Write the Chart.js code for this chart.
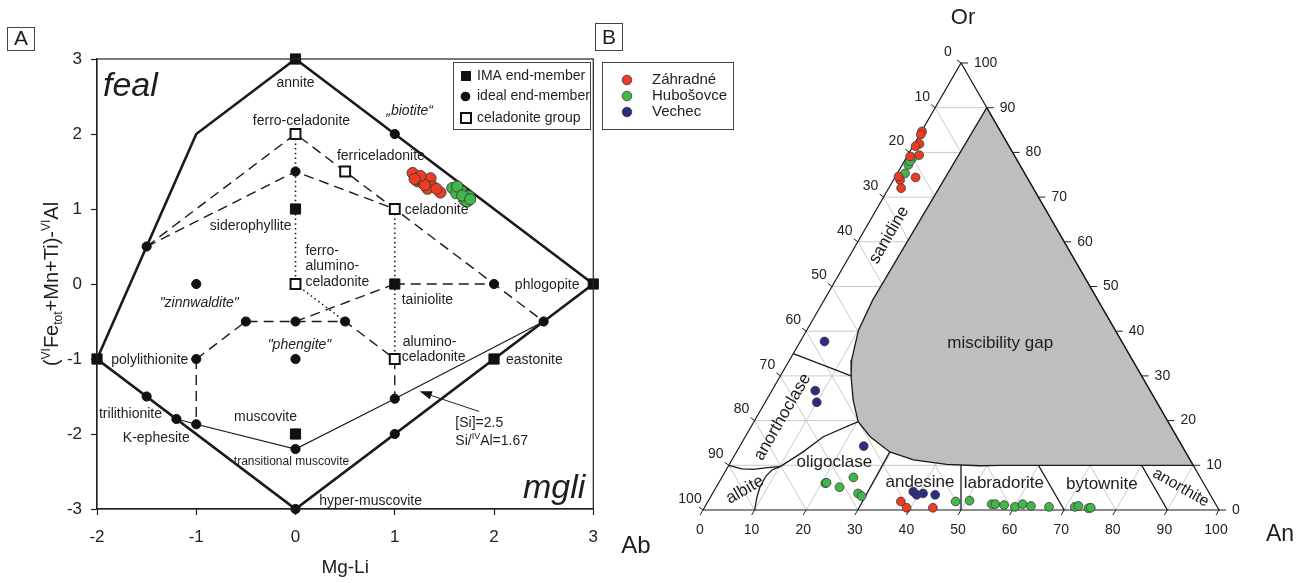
<!DOCTYPE html>
<html>
<head>
<meta charset="utf-8">
<title>Mica and feldspar classification</title>
<script src="https://cdn.jsdelivr.net/npm/chart.js@4.4.1/dist/chart.umd.min.js"></script>
<style>
    html, body { margin: 0; padding: 0; background: #fff; }
    body { width: 1306px; height: 583px; position: relative; overflow: hidden; }
    #micaChart { position: absolute; left: 0; top: 0; }
    #feldsparChart { position: absolute; left: 590px; top: 0; }
</style>
</head>
<body>
<canvas id="micaChart" width="610" height="583"></canvas>
<canvas id="feldsparChart" width="716" height="583"></canvas>
<script>
const FONT = '"Liberation Sans", Arial, Helvetica, sans-serif';

// ---------- panel A : mgli vs feal ----------
const micaTicksX = [-2, -1, 0, 1, 2, 3];
const micaTicksY = [-3, -2, -1, 0, 1, 2, 3];

const zahradneMgli = [1.18, 1.23, 1.28, 1.36, 1.38, 1.46, 1.33, 1.23, 1.30, 1.42, 1.26, 1.20];
const zahradneFeal = [1.48, 1.37, 1.35, 1.41, 1.30, 1.22, 1.27, 1.41, 1.32, 1.27, 1.44, 1.40];
const hubosovceMgli = [1.58, 1.67, 1.75, 1.70, 1.62, 1.73, 1.63, 1.68, 1.76];
const hubosovceFeal = [1.28, 1.24, 1.17, 1.12, 1.21, 1.10, 1.30, 1.18, 1.13];

const imaEndMembers = [[0, 3], [0, 1], [3, 0], [1, 0], [-2, -1], [2, -1], [0, -2]];
const idealEndMembers = [[1, 2], [0, 1.5], [-1.5, 0.5], [-1, 0], [2, 0], [-0.5, -0.5], [0, -0.5],
    [0.5, -0.5], [2.5, -0.5], [-1, -1], [0, -1], [-1.5, -1.5], [-1.2, -1.8], [-1, -1.87],
    [0, -2.2], [1, -1.53], [1, -2], [0, -3]];
const celadoniteGroup = [[0, 2], [0.5, 1.5], [1, 1], [0, 0], [1, -1]];

const outerBoundary = [[0, 3], [3, 0], [0, -3], [-2, -1], [-1.5, 0.5], [-1, 2], [0, 3]];
const si25Line = [[-1.2, -1.8], [-1, -1.87], [0, -2.2], [1, -1.53], [2.5, -0.5]];
const dashedLines = [
    [[-1.5, 0.5], [0, 2], [1, 1], [2.5, -0.5]],
    [[-1.5, 0.5], [0, 1.5], [1, 1]],
    [[1, 0], [2, 0]],
    [[0, -0.5], [1, 0]],
    [[-1, -1], [-0.5, -0.5], [0.5, -0.5], [1, -1], [1, -1.53]],
    [[-1, -1], [-1, -1.87]]
];
const dottedLines = [
    [[0, 2], [0, 0], [0.5, -0.5]],
    [[1, 1], [1, -1]]
];

// ---------- panel B : Ab - An - Or ternary ----------
const feldsparTicks = [0, 10, 20, 30, 40, 50, 60, 70, 80, 90, 100];

const zahradneAn = [0.1, 0.2, 1.0, 0.5, 2.2, 0.6, 4.0, 1.3, 2.4, 0.6, 37.4, 39.2, 44.3];
const zahradneOr = [84.7, 84.0, 81.9, 81.4, 79.4, 79.1, 74.4, 73.8, 72.0, 74.6, 1.9, 0.5, 0.5];
const hubosovceAn = [1.2, 1.2, 1.5, 1.1, 20.7, 20.9, 23.9, 25.5, 28.2, 29.2, 48.0, 50.6,
    55.3, 56.0, 57.8, 60.1, 61.3, 63.1, 66.7, 71.7, 72.3, 74.5, 74.9];
const hubosovceOr = [78.7, 77.2, 75.3, 78.0, 6.0, 6.1, 5.1, 7.3, 3.7, 3.1, 1.9, 2.1,
    1.3, 1.3, 1.1, 0.7, 1.3, 0.9, 0.7, 0.7, 0.9, 0.4, 0.5];
const vechecAn = [4.7, 8.4, 10.0, 24.0, 38.7, 39.7, 40.8, 43.3];
const vechecOr = [37.7, 26.7, 24.1, 14.3, 4.1, 3.4, 3.7, 3.4];

const gapAn = [10, 9.4, 10.0, 12.0, 13.8, 16.8, 20.2, 24.2, 29.7, 35.2, 42.1, 48.7, 52.6, 90, 10];
const gapOr = [90, 47.0, 40.3, 33.6, 29.8, 24.6, 19.75, 16.4, 13.0, 11.2, 10.2, 9.9, 10, 10, 90];

const fieldBoundaries = [
    { an: [0, 13.7], or: [35, 30.0] },                                  // sanidine / anorthoclase
    { an: [0, 2.9, 5.2, 7.7, 10.1], or: [10, 9.2, 9.1, 9.5, 9.7] },     // albite / anorthoclase
    { an: [10.1, 12.9, 15.1, 20.2], or: [9.7, 13.0, 16.4, 19.75] },     // anorthoclase / oligoclase
    { an: [10, 9.0, 8.45, 8.4, 8.9, 10.1], or: [0, 2.9, 5.2, 7.6, 8.95, 9.7] }, // albite / oligoclase
    { an: [30, 29.7], or: [0, 13.0] },                                  // oligoclase / andesine
    { an: [50, 45], or: [0, 10] },                                      // andesine / labradorite
    { an: [70, 60], or: [0, 10] },                                      // labradorite / bytownite
    { an: [90, 80], or: [0, 10] }                                       // bytownite / anorthite
];

Chart.defaults.font.family = FONT;
Chart.defaults.color = '#222';

const pairs = list => list.map(([x, y]) => ({ x, y }));
const zipXY = (xs, ys) => xs.map((x, i) => ({ x, y: ys[i] }));
const tern = (an, or) => ({ x: (an + or / 2) / 100, y: or / 100 });
const zipTern = (ans, ors) => ans.map((a, i) => tern(a, ors[i]));

function drawText(ctx, text, x, y, o) {
    ctx.save();
    ctx.font = o.font;
    ctx.fillStyle = o.color || '#1e1e1e';
    ctx.textAlign = o.align || 'left';
    ctx.textBaseline = o.baseline || 'middle';
    ctx.translate(x, y);
    if (o.rotate) ctx.rotate(o.rotate);
    ctx.fillText(text, 0, 0);
    ctx.restore();
}

// text pieces with superscript / subscript
function drawRich(ctx, parts, x, y, size, align) {
    const fontFor = k => (k ? Math.round(size * 0.62) : size) + 'px ' + FONT;
    let total = 0;
    parts.forEach(([t, k]) => { ctx.font = fontFor(k); total += ctx.measureText(t).width; });
    let cx = align === 'center' ? x - total / 2 : x;
    ctx.textAlign = 'left';
    ctx.textBaseline = 'alphabetic';
    parts.forEach(([t, k]) => {
        ctx.font = fontFor(k);
        const dy = k === 'sup' ? -size * 0.42 : (k === 'sub' ? size * 0.2 : 0);
        ctx.fillText(t, cx, y + dy);
        cx += ctx.measureText(t).width;
    });
}

function seg(ctx, x1, y1, x2, y2) {
    ctx.beginPath(); ctx.moveTo(x1, y1); ctx.lineTo(x2, y2); ctx.stroke();
}

// ---------- panel A chart ----------
const micaLabels = [
    { t: 'annite', x: 0.0, y: 2.68, align: 'center' },
    { t: '\u201Ebiotite\u201C', x: 1.15, y: 2.30, align: 'center', italic: true },
    { t: 'ferro-celadonite', x: 0.06, y: 2.17, align: 'center' },
    { t: 'ferriceladonite', x: 0.86, y: 1.70, align: 'center' },
    { t: 'celadonite', x: 1.10, y: 0.99 },
    { t: 'siderophyllite', x: -0.04, y: 0.77, align: 'right' },
    { t: 'ferro-', x: 0.10, y: 0.44 },
    { t: 'alumino-', x: 0.10, y: 0.24 },
    { t: 'celadonite', x: 0.10, y: 0.03 },
    { t: '"zinnwaldite"', x: -0.97, y: -0.25, align: 'center', italic: true },
    { t: 'tainiolite', x: 1.07, y: -0.21 },
    { t: 'phlogopite', x: 2.21, y: -0.01 },
    { t: '"phengite"', x: 0.04, y: -0.81, align: 'center', italic: true },
    { t: 'alumino-', x: 1.08, y: -0.77 },
    { t: 'celadonite', x: 1.07, y: -0.97 },
    { t: 'polylithionite', x: -1.08, y: -1.01, align: 'right' },
    { t: 'eastonite', x: 2.12, y: -1.02 },
    { t: '[Si]=2.5', x: 1.61, y: -1.85 },
    { t: 'trilithionite', x: -1.98, y: -1.74 },
    { t: 'muscovite', x: -0.62, y: -1.78 },
    { t: 'K-ephesite', x: -1.74, y: -2.05 },
    { t: 'transitional muscovite', x: -0.04, y: -2.37, align: 'center', size: 12 },
    { t: 'hyper-muscovite', x: 0.24, y: -2.90 }
];

const micaDecor = {
    id: 'micaDecor',
    afterDatasetsDraw(chart) {
        const { ctx, chartArea: a, scales: { x, y } } = chart;
        ctx.save();
        ctx.strokeStyle = '#222';
        ctx.lineWidth = 1.2;
        ctx.strokeRect(a.left, a.top, a.right - a.left, a.bottom - a.top);

        micaLabels.forEach(l => {
            const font = (l.italic ? 'italic ' : '') + (l.size || 14) + 'px ' + FONT;
            drawText(ctx, l.t, x.getPixelForValue(l.x), y.getPixelForValue(l.y), { font, align: l.align });
        });
        ctx.fillStyle = '#1e1e1e';
        drawRich(ctx, [['Si/', ''], ['IV', 'sup'], ['Al=1.67', '']],
            x.getPixelForValue(1.61), y.getPixelForValue(-2.08) + 5, 14, 'left');

        drawText(ctx, 'feal', x.getPixelForValue(-1.94), y.getPixelForValue(2.51),
            { font: 'italic 34px ' + FONT, baseline: 'alphabetic' });
        drawText(ctx, 'mgli', x.getPixelForValue(2.92), y.getPixelForValue(-2.85),
            { font: 'italic 34px ' + FONT, baseline: 'alphabetic', align: 'right' });

        // arrow pointing at the [Si]=2.5 line
        const tx = x.getPixelForValue(1.25), ty = y.getPixelForValue(-1.43);
        const sx = x.getPixelForValue(1.85), sy = y.getPixelForValue(-1.70);
        ctx.strokeStyle = '#222';
        ctx.lineWidth = 1;
        seg(ctx, sx, sy, tx + 8, ty + 3);
        const ang = Math.atan2(ty - sy, tx - sx);
        ctx.fillStyle = '#111';
        ctx.beginPath();
        ctx.moveTo(tx, ty);
        ctx.lineTo(tx - 13 * Math.cos(ang - 0.33), ty - 13 * Math.sin(ang - 0.33));
        ctx.lineTo(tx - 13 * Math.cos(ang + 0.33), ty - 13 * Math.sin(ang + 0.33));
        ctx.closePath();
        ctx.fill();

        // y axis title
        ctx.save();
        ctx.translate(a.left - 46, (a.top + a.bottom) / 2);
        ctx.rotate(-Math.PI / 2);
        ctx.fillStyle = '#1e1e1e';
        drawRich(ctx, [['(', ''], ['VI', 'sup'], ['Fe', ''], ['tot', 'sub'], ['+Mn+Ti)-', ''], ['VI', 'sup'], ['Al', '']],
            0, 7, 20, 'center');
        ctx.restore();

        // legend
        ctx.strokeStyle = '#444';
        ctx.lineWidth = 1;
        ctx.strokeRect(453.5, 62.5, 137, 67);
        ctx.fillStyle = '#111';
        ctx.fillRect(461, 71, 10, 10);
        ctx.beginPath(); ctx.arc(465.5, 96.5, 4.8, 0, Math.PI * 2); ctx.fill();
        ctx.fillStyle = '#fff';
        ctx.lineWidth = 2;
        ctx.strokeStyle = '#111';
        ctx.fillRect(461, 113, 10, 10);
        ctx.strokeRect(461, 113, 10, 10);
        ['IMA end-member', 'ideal end-member', 'celadonite group'].forEach((t, i) => {
            drawText(ctx, t, 477, [76, 96.5, 118][i], { font: '14px ' + FONT });
        });

        // panel letter
        ctx.lineWidth = 1;
        ctx.strokeStyle = '#444';
        ctx.strokeRect(7.5, 27.5, 27, 23);
        drawText(ctx, 'A', 21, 39.5, { font: '21px ' + FONT, align: 'center' });
        ctx.restore();
    }
};

const micaLine = (pts, width, dash) => ({
    data: pairs(pts), showLine: true, borderColor: '#1a1a1a', borderWidth: width,
    borderDash: dash || [], pointRadius: 0, fill: false, clip: false, order: 5
});

new Chart(document.getElementById('micaChart'), {
    type: 'scatter',
    data: {
        datasets: [
            { label: 'Záhradné', data: zipXY(zahradneMgli, zahradneFeal), pointRadius: 5.6,
              backgroundColor: '#ec3d24', borderColor: '#3a3a3a', borderWidth: 0.9, clip: false, order: 0 },
            { label: 'Hubošovce', data: zipXY(hubosovceMgli, hubosovceFeal), pointRadius: 5.6,
              backgroundColor: '#43b64b', borderColor: '#3a3a3a', borderWidth: 0.9, clip: false, order: 0 },
            { label: 'IMA end-member', data: pairs(imaEndMembers), pointStyle: 'rect', pointRadius: 7.2,
              backgroundColor: '#111', borderColor: '#111', borderWidth: 1, clip: false, order: 1 },
            { label: 'ideal end-member', data: pairs(idealEndMembers), pointRadius: 4.6,
              backgroundColor: '#111', borderColor: '#111', borderWidth: 1, clip: false, order: 1 },
            { label: 'celadonite group', data: pairs(celadoniteGroup), pointStyle: 'rect', pointRadius: 7,
              backgroundColor: '#fff', borderColor: '#111', borderWidth: 2, clip: false, order: 1 },
            micaLine(outerBoundary, 2.6),
            micaLine(si25Line, 1.2),
            ...dashedLines.map(l => micaLine(l, 1.4, [10, 6])),
            ...dottedLines.map(l => micaLine(l, 1.6, [1.5, 3.2]))
        ]
    },
    options: {
        responsive: false,
        maintainAspectRatio: false,
        devicePixelRatio: 1,
        animation: false,
        events: [],
        layout: { padding: { left: 0, right: 13, top: 59, bottom: 0 } },
        plugins: { legend: { display: false }, tooltip: { enabled: false } },
        scales: {
            x: {
                type: 'linear', min: -2, max: 3,
                afterBuildTicks: s => { s.ticks = micaTicksX.map(v => ({ value: v })); },
                afterFit: s => { s.height = 74; },
                ticks: { font: { size: 17 }, color: '#222', padding: 12 },
                grid: { drawOnChartArea: false, drawTicks: true, tickLength: 6, tickColor: '#222', tickWidth: 1.2 },
                border: { display: true, color: '#222', width: 1.2 },
                title: { display: true, text: 'Mg-Li', font: { size: 19 }, color: '#222', padding: { top: 4, bottom: 4 } }
            },
            y: {
                type: 'linear', min: -3, max: 3,
                afterBuildTicks: s => { s.ticks = micaTicksY.map(v => ({ value: v })); },
                afterFit: s => { s.width = 97; },
                ticks: { font: { size: 17 }, color: '#222', padding: 9 },
                grid: { drawOnChartArea: false, drawTicks: true, tickLength: 6, tickColor: '#222', tickWidth: 1.2 },
                border: { display: true, color: '#222', width: 1.2 }
            }
        }
    },
    plugins: [micaDecor]
});

// ---------- panel B chart ----------
const feldsparLabels = [
    { t: 'sanidine', an: 5.3, or: 61.5, rotate: -Math.PI / 3 },
    { t: 'anorthoclase', an: 5.0, or: 20.8, rotate: -Math.PI / 3 },
    { t: 'albite', an: 5.9, or: 4.5, rotate: -Math.PI / 6 },
    { t: 'oligoclase', an: 20.1, or: 10.7 },
    { t: 'andesine', an: 38.9, or: 6.3 },
    { t: 'labradorite', an: 55.3, or: 6.0 },
    { t: 'bytownite', an: 74.4, or: 5.8 },
    { t: 'anorthite', an: 90.1, or: 5.0, rotate: Math.PI / 6, size: 16 },
    { t: 'miscibility gap', an: 38.9, or: 37.4 }
];

const feldsparDecor = {
    id: 'feldsparDecor',
    afterDatasetsDraw(chart) {
        const { ctx, scales: { x, y } } = chart;
        const P = (an, or) => ({ x: x.getPixelForValue((an + or / 2) / 100), y: y.getPixelForValue(or / 100) });
        ctx.save();
        ctx.strokeStyle = '#222';
        ctx.lineWidth = 1;
        ctx.fillStyle = '#222';
        ctx.font = '14px ' + FONT;
        ctx.textBaseline = 'middle';
        feldsparTicks.forEach(v => {
            let p = P(v, 0);
            seg(ctx, p.x, p.y, p.x - 3, p.y + 5);
            ctx.textAlign = 'center';
            ctx.fillText(String(v), p.x - 3, p.y + 20);
            p = P(100 - v, v);
            seg(ctx, p.x, p.y, p.x + 7, p.y);
            ctx.textAlign = 'left';
            ctx.fillText(String(v), p.x + 13, p.y);
            p = P(0, 100 - v);
            seg(ctx, p.x, p.y, p.x - 4, p.y - 3);
            ctx.textAlign = 'center';
            ctx.fillText(String(v), p.x - 13, p.y - 11);
        });

        feldsparLabels.forEach(l => {
            const p = P(l.an, l.or);
            drawText(ctx, l.t, p.x, p.y, { font: (l.size || 17) + 'px ' + FONT, align: 'center', rotate: l.rotate });
        });

        let p = P(0, 100);
        drawText(ctx, 'Or', p.x + 2, p.y - 45, { font: '22px ' + FONT, align: 'center' });
        p = P(0, 0);
        drawText(ctx, 'Ab', p.x - 67, p.y + 36, { font: '24px ' + FONT, align: 'center' });
        p = P(100, 0);
        drawText(ctx, 'An', p.x + 61, p.y + 25, { font: '23px ' + FONT, align: 'center' });

        // legend
        ctx.strokeStyle = '#444';
        ctx.lineWidth = 1;
        ctx.strokeRect(12.5, 62.5, 131, 67);
        [['Záhradné', '#ec3d24'], ['Hubošovce', '#43b64b'], ['Vechec', '#2b2d84']].forEach(([t, c], i) => {
            const yy = [80, 96, 112][i];
            ctx.fillStyle = c;
            ctx.strokeStyle = '#3a3a3a';
            ctx.lineWidth = 0.8;
            ctx.beginPath(); ctx.arc(37, yy, 4.8, 0, Math.PI * 2); ctx.fill(); ctx.stroke();
            drawText(ctx, t, 62, yy, { font: '15px ' + FONT });
        });

        ctx.strokeStyle = '#444';
        ctx.lineWidth = 1;
        ctx.strokeRect(5.5, 23.5, 27, 27);
        drawText(ctx, 'B', 19, 38, { font: '21px ' + FONT, align: 'center' });
        ctx.restore();
    }
};

// 10 % grid of the triangle
const gridSets = [];
for (let k = 10; k < 100; k += 10) {
    [[[0, k], [100 - k, k]], [[k, 0], [k, 100 - k]], [[100 - k, 0], [0, 100 - k]]].forEach(([p1, p2]) => {
        gridSets.push({
            data: [tern(p1[0], p1[1]), tern(p2[0], p2[1])], showLine: true, borderColor: '#c9c9c9',
            borderWidth: 1, pointRadius: 0, fill: false, clip: false, order: 6
        });
    });
}

const feldsparPoints = (label, ans, ors, color) => ({
    label, data: zipTern(ans, ors), pointRadius: 4.4, backgroundColor: color,
    borderColor: '#3a3a3a', borderWidth: 0.8, clip: false, order: 0
});

new Chart(document.getElementById('feldsparChart'), {
    type: 'scatter',
    data: {
        datasets: [
            feldsparPoints('Záhradné', zahradneAn, zahradneOr, '#ec3d24'),
            feldsparPoints('Hubošovce', hubosovceAn, hubosovceOr, '#43b64b'),
            feldsparPoints('Vechec', vechecAn, vechecOr, '#2b2d84'),
            ...fieldBoundaries.map(b => ({
                data: zipTern(b.an, b.or), showLine: true, borderColor: '#1a1a1a', borderWidth: 1.3,
                pointRadius: 0, fill: false, clip: false, order: 2
            })),
            {
                data: [tern(0, 0), tern(100, 0), tern(0, 100), tern(0, 0)], showLine: true,
                borderColor: '#1a1a1a', borderWidth: 1.2, pointRadius: 0, fill: false, clip: false, order: 2
            },
            {
                data: zipTern(gapAn, gapOr), showLine: true, borderColor: '#1a1a1a', borderWidth: 1.3,
                backgroundColor: '#bcbec0', fill: 'shape', pointRadius: 0, clip: false, order: 3
            },
            ...gridSets
        ]
    },
    options: {
        responsive: false,
        maintainAspectRatio: false,
        devicePixelRatio: 1,
        animation: false,
        events: [],
        layout: { padding: { left: 113, right: 87, top: 63, bottom: 73 } },
        plugins: { legend: { display: false }, tooltip: { enabled: false } },
        scales: {
            x: { type: 'linear', min: 0, max: 1, display: false },
            y: { type: 'linear', min: 0, max: 1, display: false }
        }
    },
    plugins: [feldsparDecor]
});
</script>
</body>
</html>
